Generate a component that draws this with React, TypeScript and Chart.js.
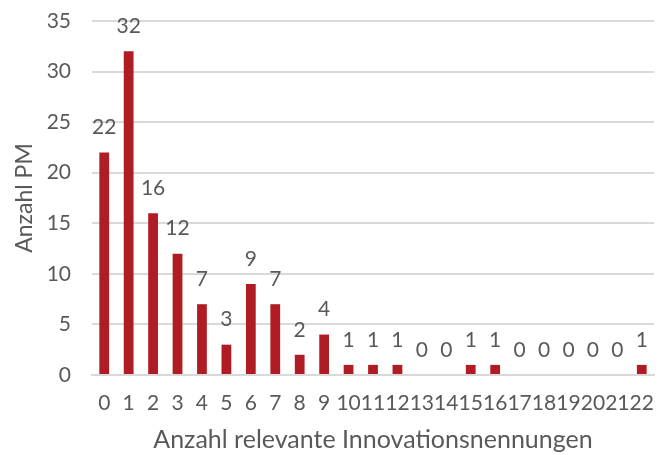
import React, { useEffect, useRef } from "react";
import { Chart, registerables } from "chart.js";

Chart.register(...registerables);

const categories = ["0","1","2","3","4","5","6","7","8","9","10","11","12","13","14","15","16","17","18","19","20","21","22"];
const values = [22, 32, 16, 12, 7, 3, 9, 7, 2, 4, 1, 1, 1, 0, 0, 1, 1, 0, 0, 0, 0, 0, 1];
const yTitle = "Anzahl PM";
const xTitle = "Anzahl relevante Innovationsnennungen";

const FONT = "Lato, 'Open Sans', sans-serif";
const TEXT = "#595959";

const labelPlugin = {
  id: "barLabels",
  afterDatasetsDraw(chart: any) {
    const ctx = chart.ctx;
    const meta = chart.getDatasetMeta(0);
    ctx.save();
    ctx.font = `21px ${FONT}`;
    ctx.fillStyle = TEXT;
    ctx.textAlign = "center";
    ctx.textBaseline = "middle";
    meta.data.forEach((bar: any, i: number) => {
      ctx.fillText(String(values[i]), bar.x, bar.y - 25);
    });
    ctx.restore();
  },
};

export default function App() {
  const ref = useRef<HTMLCanvasElement>(null);
  useEffect(() => {
    if (!ref.current) return;
    const chart = new Chart(ref.current, {
      type: "bar",
      data: {
        labels: categories,
        datasets: [
          {
            data: values,
            backgroundColor: "#B01C24",
            barPercentage: 0.4,
            categoryPercentage: 1,
          },
        ],
      },
      options: {
        animation: false,
        responsive: true,
        maintainAspectRatio: false,
        layout: { padding: { top: 0, right: 14, left: 0, bottom: 0 } },
        plugins: { legend: { display: false }, tooltip: { enabled: false } },
        scales: {
          x: {
            grid: { display: false, drawTicks: false },
            border: { display: true, color: "#D9D9D9", width: 2 },
            ticks: {
              color: TEXT,
              font: { family: FONT, size: 21 },
              autoSkip: false,
              maxRotation: 0,
              minRotation: 0,
              padding: 16,
            },
            title: {
              display: true,
              text: xTitle,
              color: TEXT,
              font: { family: FONT, size: 25 },
              padding: { top: 0, bottom: 0 },
            },
            afterFit: (s: any) => {
              s.height = 80;
              s.paddingRight = 0;
            },
          },
          y: {
            min: 0,
            max: 35,
            ticks: {
              stepSize: 5,
              color: TEXT,
              font: { family: FONT, size: 21 },
              padding: 21,
            },
            grid: { color: "#D9D9D9", lineWidth: 2, drawTicks: false },
            border: { display: false },
            title: {
              display: true,
              text: yTitle,
              color: TEXT,
              font: { family: FONT, size: 23 },
              padding: { bottom: 0, top: 11 },
            },
            afterFit: (s: any) => {
              s.width = 92;
              s.paddingTop = 21;
            },
          },
        },
      },
      plugins: [labelPlugin],
    });
    return () => chart.destroy();
  }, []);
  return (
    <div style={{ position: "fixed", left: 0, top: 0, width: 668, height: 455 }}>
      <canvas ref={ref} />
    </div>
  );
}
